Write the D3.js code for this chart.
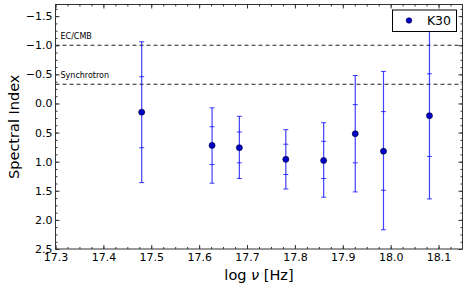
<!DOCTYPE html>
<html><head><meta charset="utf-8">
<script src="https://cdn.jsdelivr.net/npm/d3@7"></script>
<style>
body{margin:0;background:#fff;}
text{font-family:"DejaVu Sans",sans-serif;}
</style></head>
<body><svg id="c" width="468" height="289"></svg>
<script>
const logNu      = [17.48, 17.627, 17.684, 17.781, 17.86, 17.926, 17.985, 18.081];
const specIndex  = [0.15, 0.72, 0.76, 0.96, 0.98, 0.52, 0.82, 0.21];
const innerLow   = [-0.46, 0.40, 0.49, 0.70, 0.65, 0.02, 0.14, -0.51];
const innerHigh  = [0.76, 1.05, 1.02, 1.22, 1.29, 1.02, 1.49, 0.91];
const outerLow   = [-1.06, 0.075, 0.22, 0.45, 0.33, -0.48, -0.55, -1.24];
const outerHigh  = [1.36, 1.37, 1.29, 1.47, 1.61, 1.52, 2.17, 1.64];
const refLines   = [{v:-1.0, label:"EC/CMB"}, {v:-0.33, label:"Synchrotron"}];
const xTicks     = [17.3,17.4,17.5,17.6,17.7,17.8,17.9,18.0,18.1];
const yTicks     = [-1.5,-1.0,-0.5,0.0,0.5,1.0,1.5,2.0,2.5];
const seriesName = "K30";

const L=55.5, R=462.5, T=4.5, B=249;
const svg=d3.select("#c");
const x=d3.scaleLinear().domain([17.3,18.15]).range([L,R]);
const y=d3.scaleLinear().domain([-1.7,2.5]).range([T,B]);

// minor ticks
const xMinor=d3.range(17.3,18.15,0.025);
const yMinor=d3.range(-1.625,2.5,0.125);
const fmt=v=>(v<0?"\u2212":"")+Math.abs(v).toFixed(1);

const g=svg.append("g");
// bottom axis
const xb=g.append("g").attr("transform",`translate(0,${B})`)
  .call(d3.axisBottom(x).tickValues(xTicks).tickSizeInner(-4).tickSizeOuter(0).tickPadding(3).tickFormat(d=>d.toFixed(1)));
xb.select(".domain").remove();
xb.selectAll("text").attr("font-size",11).attr("fill","#000").attr("dy","0.75em").attr("y",4);
g.append("g").attr("transform",`translate(0,${B})`).call(d3.axisBottom(x).tickValues(xMinor).tickSizeInner(-2).tickSizeOuter(0).tickFormat("")).select(".domain").remove();
// top axis
g.append("g").attr("transform",`translate(0,${T})`).call(d3.axisTop(x).tickValues(xTicks).tickSizeInner(-4).tickSizeOuter(0).tickFormat("")).select(".domain").remove();
g.append("g").attr("transform",`translate(0,${T})`).call(d3.axisTop(x).tickValues(xMinor).tickSizeInner(-2).tickSizeOuter(0).tickFormat("")).select(".domain").remove();
// left axis
const yl=g.append("g").attr("transform",`translate(${L},0)`)
  .call(d3.axisLeft(y).tickValues(yTicks).tickSizeInner(-4).tickSizeOuter(0).tickPadding(3).tickFormat(fmt));
yl.select(".domain").remove();
yl.selectAll("text").attr("font-size",11).attr("fill","#000").attr("x",-3);
g.append("g").attr("transform",`translate(${L},0)`).call(d3.axisLeft(y).tickValues(yMinor).tickSizeInner(-2).tickSizeOuter(0).tickFormat("")).select(".domain").remove();
// right axis
g.append("g").attr("transform",`translate(${R},0)`).call(d3.axisRight(y).tickValues(yTicks).tickSizeInner(-4).tickSizeOuter(0).tickFormat("")).select(".domain").remove();
g.append("g").attr("transform",`translate(${R},0)`).call(d3.axisRight(y).tickValues(yMinor).tickSizeInner(-2).tickSizeOuter(0).tickFormat("")).select(".domain").remove();
g.selectAll(".tick line").attr("stroke","#333");

// reference lines
refLines.forEach(r=>{
  svg.append("line").attr("x1",L).attr("x2",R).attr("y1",y(r.v)).attr("y2",y(r.v))
    .attr("stroke","#222").attr("stroke-width",1).attr("stroke-dasharray","4,3");
  svg.append("text").attr("x",L+5).attr("y",y(r.v)-6).attr("font-size",8).attr("fill","#000").text(r.label);
});

// error bars
const col="#0000ff";
const eb=svg.append("g");
logNu.forEach((xv,i)=>{
  const cx=x(xv);
  eb.append("line").attr("x1",cx).attr("x2",cx).attr("y1",y(outerLow[i])).attr("y2",y(outerHigh[i])).attr("stroke",col).attr("stroke-opacity",0.75).attr("stroke-width",1.2);
  [outerLow[i],outerHigh[i],innerLow[i],innerHigh[i]].forEach(v=>{
    eb.append("line").attr("x1",cx-2.5).attr("x2",cx+2.5).attr("y1",y(v)).attr("y2",y(v)).attr("stroke",col).attr("stroke-opacity",0.75).attr("stroke-width",1);
  });
});
svg.append("g").selectAll("circle").data(logNu).join("circle")
  .attr("cx",d=>x(d)).attr("cy",(d,i)=>y(specIndex[i])).attr("r",3)
  .attr("fill","#0000c8").attr("stroke","#000040").attr("stroke-width",0.7);

// frame
svg.append("rect").attr("x",L).attr("y",T).attr("width",R-L).attr("height",B-T)
  .attr("fill","none").attr("stroke","#333").attr("stroke-width",1);

// legend
svg.append("rect").attr("x",392.5).attr("y",10).attr("width",64).attr("height",21.5)
  .attr("fill","#fff").attr("stroke","#000").attr("stroke-width",1);
svg.append("circle").attr("cx",409).attr("cy",20.5).attr("r",2.8).attr("fill","#0000c8").attr("stroke","#000040").attr("stroke-width",0.6);
svg.append("text").attr("x",451).attr("y",25).attr("text-anchor","end").attr("font-size",12.5).attr("fill","#000").text(seriesName);

// axis labels
svg.append("text").attr("transform",`translate(19,${(T+B)/2}) rotate(-90)`).attr("text-anchor","middle")
  .attr("font-size",14.5).attr("fill","#000").text("Spectral Index");
svg.append("text").attr("x",(L+R)/2).attr("y",280).attr("text-anchor","middle")
  .attr("font-size",14.5).attr("fill","#000").html("log <tspan font-style='italic'>\u03BD</tspan> [Hz]");
</script></body></html>
